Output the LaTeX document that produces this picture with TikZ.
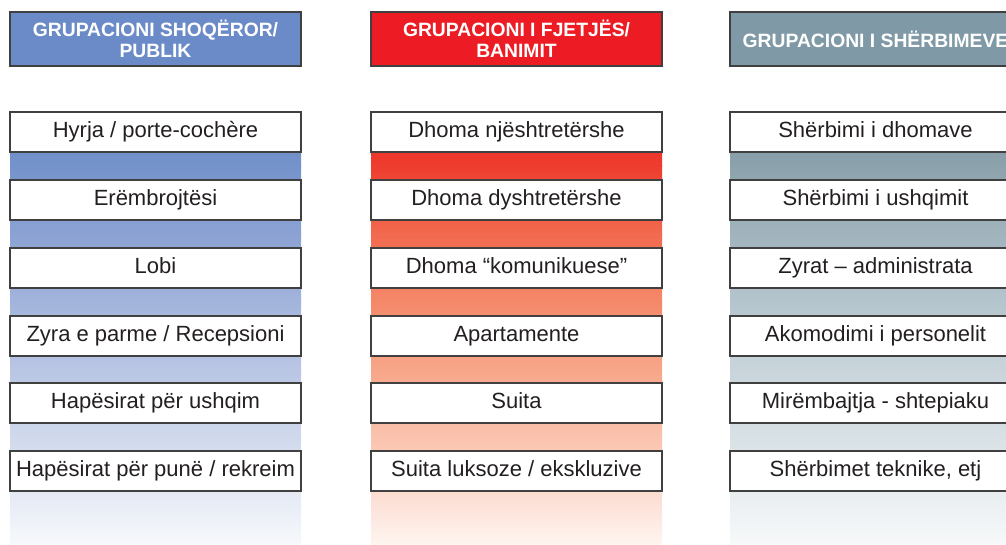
\documentclass[tikz,border=0pt]{standalone}
\usepackage{fontspec}
\setmainfont{Liberation Sans}
\definecolor{hA}{RGB}{107,139,200}
\definecolor{hB}{RGB}{237,28,36}
\definecolor{hC}{RGB}{127,154,166}
\definecolor{edge}{RGB}{64,64,64}
\definecolor{txt}{RGB}{35,31,32}
% column 1 gradient stops
\definecolor{a0}{RGB}{99,133,196}\definecolor{a1}{RGB}{117,147,203}\definecolor{a2}{RGB}{139,162,211}
\definecolor{a3}{RGB}{163,180,220}\definecolor{a4}{RGB}{185,198,228}\definecolor{a5}{RGB}{208,217,236}
\definecolor{a6}{RGB}{247,249,252}
% column 2
\definecolor{b0}{RGB}{237,35,36}\definecolor{b1}{RGB}{238,61,47}\definecolor{b2}{RGB}{242,106,79}
\definecolor{b3}{RGB}{244,137,106}\definecolor{b4}{RGB}{247,166,137}\definecolor{b5}{RGB}{250,195,174}
\definecolor{b6}{RGB}{254,245,241}
% column 3
\definecolor{c0}{RGB}{125,150,162}\definecolor{c1}{RGB}{140,162,173}\definecolor{c2}{RGB}{161,180,189}
\definecolor{c3}{RGB}{181,197,205}\definecolor{c4}{RGB}{201,213,219}\definecolor{c5}{RGB}{216,225,229}
\definecolor{c6}{RGB}{247,249,250}
\begin{document}
\begin{tikzpicture}[x=1pt,y=-1pt,
  header/.style={draw=edge,line width=1.2pt,minimum width=291pt,minimum height=54pt,
    inner sep=0pt,align=center,text=white,font=\fontsize{19.3}{21}\selectfont\bfseries},
  item/.style={draw=edge,line width=1.2pt,fill=white,minimum width=291pt,minimum height=40pt,
    inner sep=0pt,text height=16pt,text depth=5pt,text=txt,font=\fontsize{22}{24}\selectfont}]
\useasboundingbox (0,0) rectangle (1006,545);
\clip (0,0) rectangle (1006,545);
% gradient columns
\foreach \col/\xl in {a/10,b/371,c/730}{
  \shade[top color=\col0,bottom color=\col1] (\xl,112) rectangle (\xl+291,166.5);
  \shade[top color=\col1,bottom color=\col2] (\xl,166) rectangle (\xl+291,234.5);
  \shade[top color=\col2,bottom color=\col3] (\xl,234) rectangle (\xl+291,302.5);
  \shade[top color=\col3,bottom color=\col4] (\xl,302) rectangle (\xl+291,370.5);
  \shade[top color=\col4,bottom color=\col5] (\xl,370) rectangle (\xl+291,437.5);
  \shade[top color=\col5,bottom color=\col6] (\xl,437) rectangle (\xl+291,545);
}
% headers
\node[header,fill=hA] (hA) at (155.5,39) {GRUPACIONI SHOQËROR/\\PUBLIK};
\node[header,fill=hB] (hB) at (516.5,39) {GRUPACIONI I FJETJËS/\\BANIMIT};
\node[header,fill=hC] (hC) at (875.5,39) {GRUPACIONI I SHËRBIMEVE};
% column 1
\node[item] (a1) at (155.5,132) {Hyrja / porte-cochère};
\node[item] (a2) at (155.5,200) {Erëmbrojtësi};
\node[item] (a3) at (155.5,268) {Lobi};
\node[item] (a4) at (155.5,336) {Zyra e parme / Recepsioni};
\node[item] (a5) at (155.5,403) {Hapësirat për ushqim};
\node[item] (a6) at (155.5,471) {Hapësirat për punë / rekreim};
% column 2
\node[item] (b1) at (516.5,132) {Dhoma njështretërshe};
\node[item] (b2) at (516.5,200) {Dhoma dyshtretërshe};
\node[item] (b3) at (516.5,268) {Dhoma “komunikuese”};
\node[item] (b4) at (516.5,336) {Apartamente};
\node[item] (b5) at (516.5,403) {Suita};
\node[item] (b6) at (516.5,471) {Suita luksoze / ekskluzive};
% column 3
\node[item] (c1) at (875.5,132) {Shërbimi i dhomave};
\node[item] (c2) at (875.5,200) {Shërbimi i ushqimit};
\node[item] (c3) at (875.5,268) {Zyrat – administrata};
\node[item] (c4) at (875.5,336) {Akomodimi i personelit};
\node[item] (c5) at (875.5,403) {Mirëmbajtja - shtepiaku};
\node[item] (c6) at (875.5,471) {Shërbimet teknike, etj};
\end{tikzpicture}
\end{document}
